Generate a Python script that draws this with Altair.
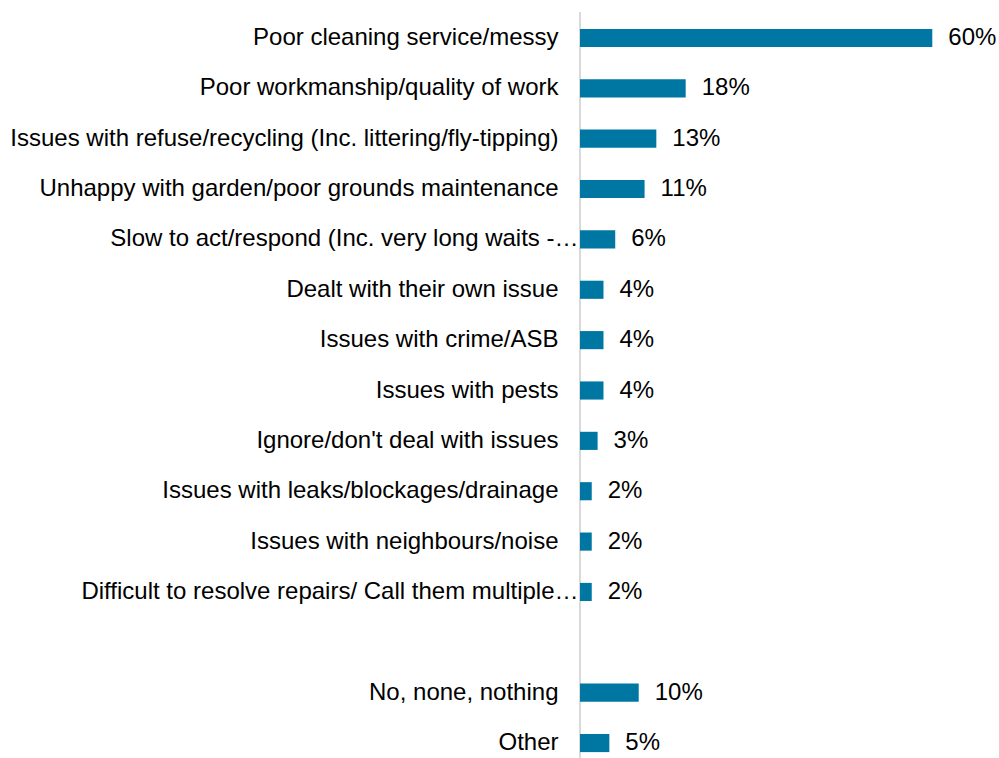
import altair as alt
import pandas as pd

categories = [
    "Poor cleaning service/messy",
    "Poor workmanship/quality of work",
    "Issues with refuse/recycling (Inc. littering/fly-tipping)",
    "Unhappy with garden/poor grounds maintenance",
    "Slow to act/respond (Inc. very long waits -…",
    "Dealt with their own issue",
    "Issues with crime/ASB",
    "Issues with pests",
    "Ignore/don't deal with issues",
    "Issues with leaks/blockages/drainage",
    "Issues with neighbours/noise",
    "Difficult to resolve repairs/ Call them multiple…",
    " ",
    "No, none, nothing",
    "Other",
]
values = [60, 18, 13, 11, 6, 4, 4, 4, 3, 2, 2, 2, None, 10, 5]

df = pd.DataFrame({"category": categories, "value": values})
df["label"] = [("" if v is None else f"{v}%") for v in values]

FONT = "Liberation Sans"
BLUE = "#0076A3"
W, H = 411, 735

y_enc = alt.Y(
    "category:N",
    sort=categories,
    scale=alt.Scale(domain=categories, paddingInner=0.64, paddingOuter=0.117),
    axis=alt.Axis(
        title=None,
        domain=False,
        ticks=False,
        grid=False,
        labelFont=FONT,
        labelFontSize=24,
        labelColor="#000000",
        labelLimit=1000,
        labelPadding=alt.ExprRef(expr="indexof(datum.label, '…') >= 0 ? 2 : 22"),
    ),
)
x_enc = alt.X("value:Q", scale=alt.Scale(domain=[0, 70]), axis=None)

base = alt.Chart(df)

bars = base.mark_bar(color=BLUE).encode(y=y_enc, x=x_enc)

texts = base.mark_text(
    align="left", baseline="middle", dx=16, font=FONT, fontSize=24, color="#000000"
).encode(y=alt.Y("category:N", sort=categories), x=x_enc, text="label:N")

axis_line = alt.Chart(pd.DataFrame({"zero": [0]})).mark_rule(
    color="#D9D9D9", strokeWidth=2
).encode(x=alt.X("zero:Q", scale=alt.Scale(domain=[0, 70]), axis=None),
         y=alt.value(-11), y2=alt.value(H))

chart = (
    alt.layer(axis_line, bars, texts)
    .properties(
        width=W,
        height=H,
        autosize=alt.AutoSizeParams(type="none"),
        padding={"left": 580, "top": 23, "right": 8, "bottom": 0},
        background="white",
    )
    .configure_view(stroke=None)
)

chart.save("out.html", embed_options={"renderer": "svg", "actions": False})
